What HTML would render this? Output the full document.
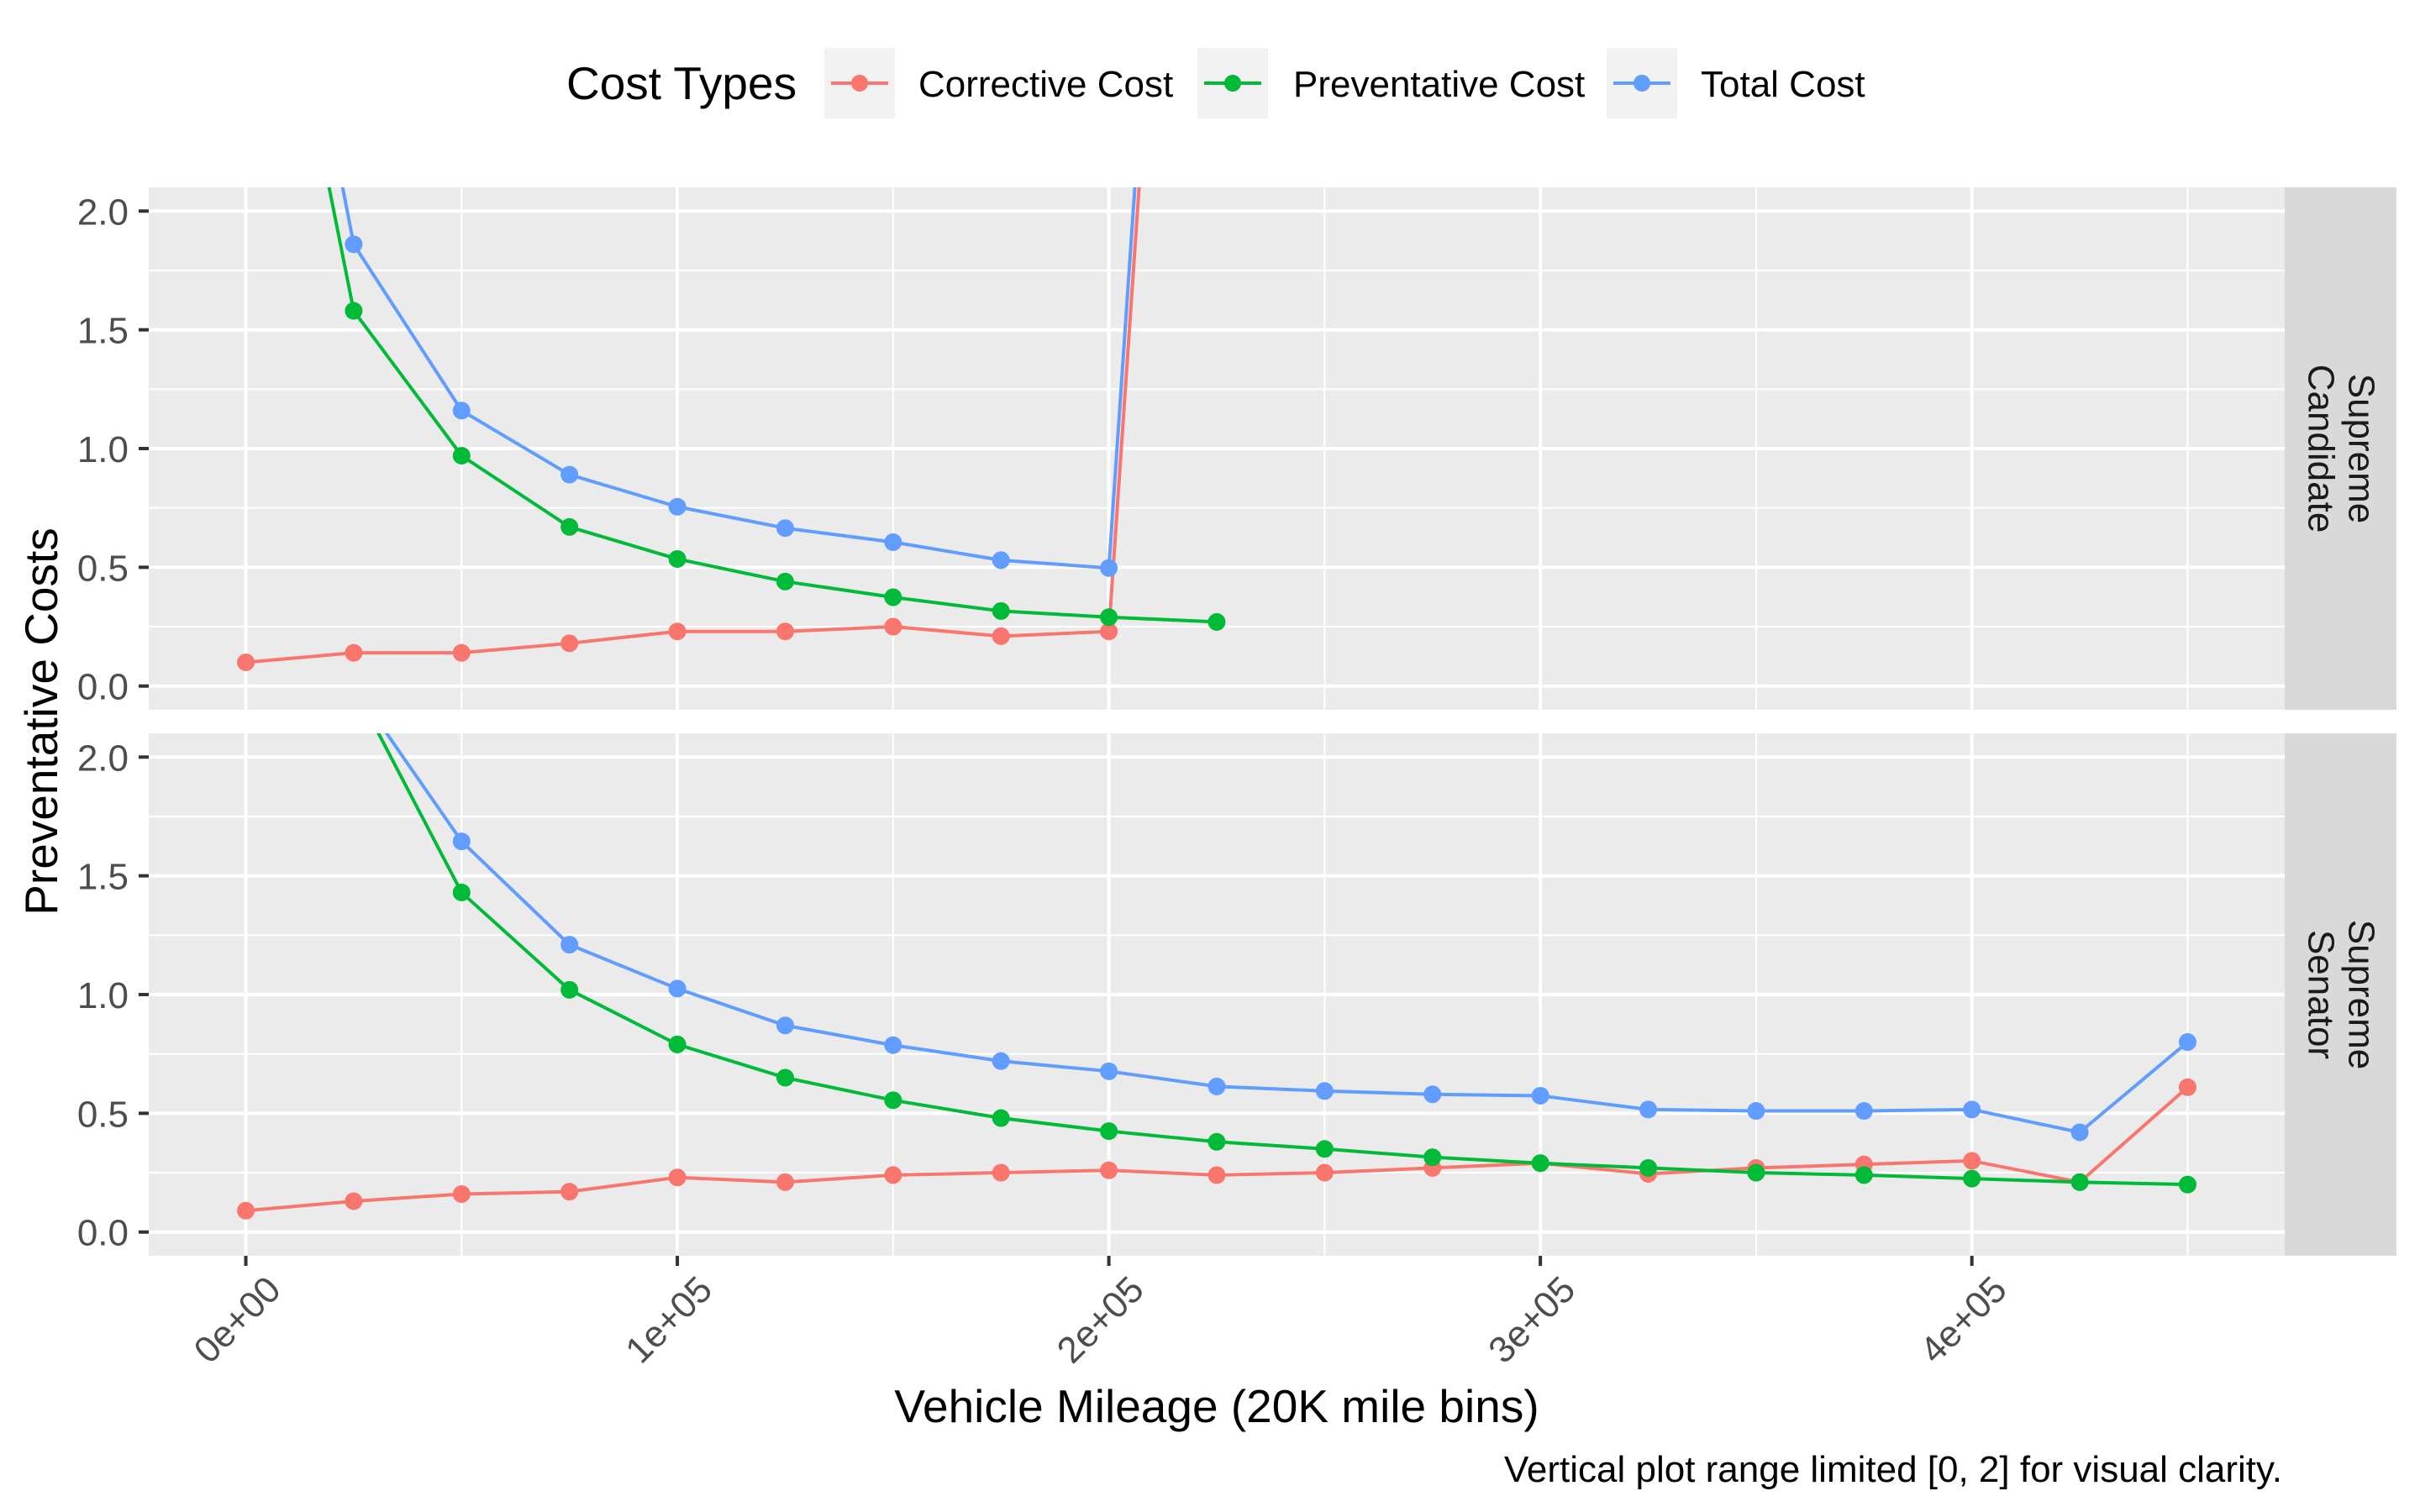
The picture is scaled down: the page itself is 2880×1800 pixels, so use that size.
<!DOCTYPE html>
<html><head><meta charset="utf-8"><style>
html,body{margin:0;padding:0;background:#fff}
svg{display:block;font-family:"Liberation Sans",Arial,sans-serif}
</style></head><body>
<svg id="chart" width="2880" height="1800" viewBox="0 0 2880 1800" xmlns="http://www.w3.org/2000/svg">
<rect width="2880" height="1800" fill="#fff"/>
<g id="legend">
<text x="674" y="118" font-size="55" fill="#000">Cost Types</text>
<g>
<rect x="981" y="57" width="84" height="84" fill="#F2F2F2"/>
<line x1="989" y1="99" x2="1057" y2="99" stroke="#F8766D" stroke-width="4"/>
<circle cx="1023" cy="99" r="10" fill="#F8766D"/>
<text x="1093" y="115" font-size="44">Corrective Cost</text></g>
<g>
<rect x="1425" y="57" width="84" height="84" fill="#F2F2F2"/>
<line x1="1433" y1="99" x2="1501" y2="99" stroke="#00BA38" stroke-width="4"/>
<circle cx="1467" cy="99" r="10" fill="#00BA38"/>
<text x="1539" y="115" font-size="44">Preventative Cost</text></g>
<g>
<rect x="1912" y="57" width="84" height="84" fill="#F2F2F2"/>
<line x1="1920" y1="99" x2="1988" y2="99" stroke="#619CFF" stroke-width="4"/>
<circle cx="1954" cy="99" r="10" fill="#619CFF"/>
<text x="2024" y="115" font-size="44">Total Cost</text></g>
</g>
<text transform="translate(68,859) rotate(-90)" text-anchor="middle" font-size="55">Preventative Costs</text>
<text x="1448" y="1693" text-anchor="middle" font-size="55">Vehicle Mileage (20K mile bins)</text>
<text x="2716" y="1764" text-anchor="end" font-size="44">Vertical plot range limited [0, 2] for visual clarity.</text>
<g id="plots"></g>
</svg>
<script>
const xValues=[0,25000,50000,75000,100000,125000,150000,175000,200000,225000,250000,275000,300000,325000,350000,375000,400000,425000,450000];
const yTicks=[0,0.5,1.0,1.5,2.0];
const yTickLabels=["0.0","0.5","1.0","1.5","2.0"];
const xTicks=[0,100000,200000,300000,400000];
const xTickLabels=["0e+00","1e+05","2e+05","3e+05","4e+05"];
const panelNames=["Supreme\nCandidate","Supreme\nSenator"];
const candCorrective=[0.10,0.14,0.14,0.18,0.23,0.23,0.25,0.21,0.23,6.9];
const candPreventative=[3.86,1.58,0.97,0.67,0.535,0.44,0.374,0.316,0.29,0.27];
const candTotal=[4.2,1.86,1.16,0.89,0.755,0.665,0.606,0.53,0.497,7.15];
const senCorrective=[0.09,0.13,0.16,0.17,0.23,0.21,0.24,0.25,0.26,0.24,0.25,0.27,0.29,0.245,0.27,0.285,0.30,0.21,0.61];
const senPreventative=[5.0,2.3,1.43,1.02,0.79,0.65,0.555,0.48,0.425,0.38,0.35,0.315,0.29,0.27,0.25,0.24,0.225,0.21,0.20];
const senTotal=[5.3,2.3,1.645,1.21,1.025,0.87,0.787,0.72,0.677,0.613,0.594,0.58,0.574,0.516,0.51,0.51,0.516,0.42,0.80];

const NS="http://www.w3.org/2000/svg";
const L=177,R=2719,SR=2852;
const xMin=-22500,xMax=472500;
function xs(v){return L+(v-xMin)/(xMax-xMin)*(R-L);}
const panels=[{top:223,bot:845,series:[candCorrective,candPreventative,candTotal]},{top:873,bot:1495,series:[senCorrective,senPreventative,senTotal]}];
const colors=["#F8766D","#00BA38","#619CFF"];
const sNames=["corrective","preventative","total"];
function mk(tag,attrs,parent){const e=document.createElementNS(NS,tag);for(const k in attrs)e.setAttribute(k,attrs[k]);parent.appendChild(e);return e;}
const root=document.getElementById('plots');
panels.forEach((p,pi)=>{
  const ys=v=>p.bot-(v+0.1)/2.2*(p.bot-p.top);
  const g=mk('g',{},root);
  
  
  const bg=mk('rect',{x:L,y:p.top,width:R-L,height:p.bot-p.top,fill:'#EBEBEB'},g);
  
  
  for(let v=0.25;v<2.1;v+=0.5){mk('line',{x1:L,x2:R,y1:ys(v),y2:ys(v),stroke:'#fff','stroke-width':2},g);}
  for(let v=50000;v<=450000;v+=100000){mk('line',{x1:xs(v),x2:xs(v),y1:p.top,y2:p.bot,stroke:'#fff','stroke-width':2},g);}
  yTicks.forEach((v,i)=>{
    mk('line',{x1:L,x2:R,y1:ys(v),y2:ys(v),stroke:'#fff','stroke-width':4},g);
    mk('line',{x1:165,x2:L,y1:ys(v),y2:ys(v),stroke:'#333','stroke-width':4},g);
    const t=mk('text',{x:153,y:ys(v)+16,'text-anchor':'end','font-size':44,fill:'#4D4D4D'},g);
    t.textContent=yTickLabels[i];
    
    
  });
  xTicks.forEach(v=>{mk('line',{x1:xs(v),x2:xs(v),y1:p.top,y2:p.bot,stroke:'#fff','stroke-width':4},g);});
  const st=mk('rect',{x:R,y:p.top,width:SR-R,height:p.bot-p.top,fill:'#D9D9D9'},g);
  
  
  const cy=(p.top+p.bot)/2;
  const lines=panelNames[pi].split('\n');
  const tt=mk('text',{transform:`translate(${(R+SR)/2},${cy}) rotate(90)`,'text-anchor':'middle','font-size':44,fill:'#1A1A1A'},g);
  
  
  lines.forEach((s,i)=>{const ts=mk('tspan',{x:0,y:(i===0?-10:38)},tt);ts.textContent=s;});
  const cid='clip'+pi;
  const cp=mk('clipPath',{id:cid},g);
  mk('rect',{x:L,y:p.top,width:R-L,height:p.bot-p.top},cp);
  const sg=mk('g',{'clip-path':`url(#${cid})`},g);
  p.series.forEach((arr,si)=>{
    const pts=arr.map((v,i)=>xs(xValues[i])+','+ys(v)).join(' ');
    const pl=mk('polyline',{points:pts,fill:'none',stroke:colors[si],'stroke-width':4,'stroke-linejoin':'round'},sg);
    
    
    arr.forEach((v,i)=>{
      const c=mk('circle',{cx:xs(xValues[i]),cy:ys(v),r:10.5,fill:colors[si]},sg);
      
      
    });
  });
});
xTicks.forEach((v,i)=>{
  const x=xs(v);
  mk('line',{x1:x,x2:x,y1:1495,y2:1507,stroke:'#333','stroke-width':4},root);
  const t=mk('text',{transform:`translate(${x+44},${1538}) rotate(-45)`,'text-anchor':'end','font-size':44,fill:'#4D4D4D'},root);
  t.textContent=xTickLabels[i];
  
  
});
</script>
</body></html>
